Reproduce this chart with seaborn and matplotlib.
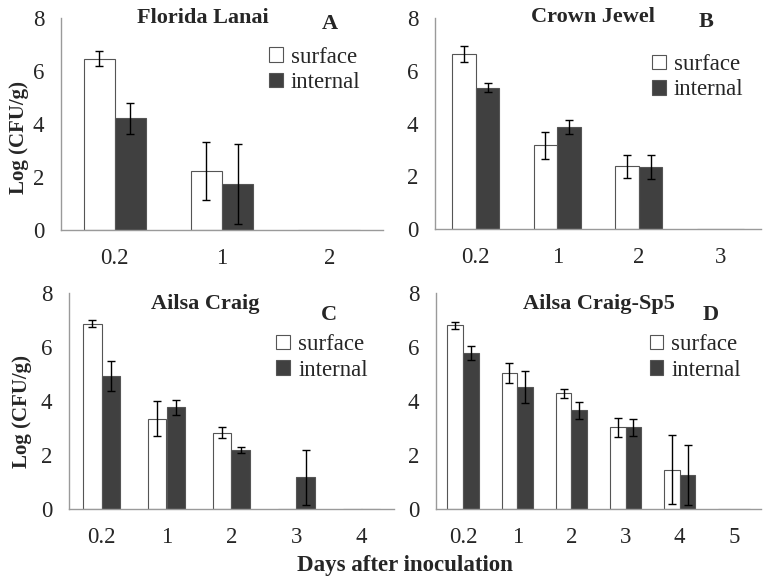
import numpy as np
import pandas as pd
import seaborn as sns
import matplotlib.pyplot as plt

# values (mean log CFU/g and error)
titles = ["Florida Lanai", "Crown Jewel", "Ailsa Craig", "Ailsa Craig-Sp5"]
letters = ["A", "B", "C", "D"]
days = [["0.2", "1", "2"],
        ["0.2", "1", "2", "3"],
        ["0.2", "1", "2", "3", "4"],
        ["0.2", "1", "2", "3", "4", "5"]]
surface = [[6.46, 2.23, 0],
           [6.63, 3.17, 2.37, 0],
           [6.87, 3.35, 2.83, 0, 0],
           [6.80, 5.02, 4.28, 3.02, 1.46, 0]]
surface_err = [[0.28, 1.09, 0],
               [0.29, 0.51, 0.45, 0],
               [0.13, 0.64, 0.21, 0, 0],
               [0.12, 0.37, 0.17, 0.36, 1.28, 0]]
internal = [[4.22, 1.74, 0],
            [5.36, 3.87, 2.36, 0],
            [4.93, 3.76, 2.19, 1.17, 0],
            [5.79, 4.51, 3.65, 3.02, 1.27, 0]]
internal_err = [[0.59, 1.50, 0],
                [0.16, 0.25, 0.46, 0],
                [0.57, 0.29, 0.12, 1.02, 0],
                [0.26, 0.59, 0.31, 0.33, 1.11, 0]]

sns.set_style("white")
plt.rcParams['font.family'] = ['Liberation Serif', 'DejaVu Serif']

fig = plt.figure(figsize=(7.68, 5.88), dpi=100)
W, H = 768, 588
# axes boxes in pixels: left, right, top, bottom
boxes = [(61, 383, 18, 230), (435, 761, 18, 229),
         (69, 394, 293, 509), (436, 761, 293, 509)]
title_pos = [(0.44, 1.0), (0.485, 1.005), (0.42, 0.95), (0.50, 0.95)]
letter_pos = [(0.835, 0.97), (0.83, 0.98), (0.80, 0.90), (0.846, 0.90)]
legend_pos = [(0.646, 0.865), (0.665, 0.83), (0.638, 0.81), (0.657, 0.81)]

grey = "#9a9a9a"
for i in range(4):
    l, r, t, b = boxes[i]
    ax = fig.add_axes([l / W, 1 - b / H, (r - l) / W, (b - t) / H])
    df = pd.DataFrame({
        "day": days[i] * 2,
        "val": surface[i] + internal[i],
        "err": surface_err[i] + internal_err[i],
        "kind": ["surface"] * len(days[i]) + ["internal"] * len(days[i]),
    })
    sns.barplot(data=df, x="day", y="val", hue="kind", order=days[i],
                hue_order=["surface", "internal"],
                palette={"surface": "white", "internal": "#404040"},
                edgecolor="#555555", linewidth=0.8, width=0.58,
                errorbar=None, ax=ax)
    # custom error bars at the bar centres
    for bars, errs, vals in zip(ax.containers, [surface_err[i], internal_err[i]],
                                [surface[i], internal[i]]):
        xs = [p.get_x() + p.get_width() / 2 for p in bars.patches]
        for x, v, e in zip(xs, vals, errs):
            if v > 0:
                ax.errorbar(x, v, yerr=e, color="black", capsize=3,
                            elinewidth=1, capthick=1)
    ax.set_ylim(0, 8)
    ax.set_yticks([0, 2, 4, 6, 8])
    ax.set_xlim(-0.5, len(days[i]) - 0.5)
    ax.set_xticks(np.arange(len(days[i]) + 1) - 0.5, minor=False)
    ax.set_xticklabels([])
    ax.set_xticks(np.arange(len(days[i])), minor=True)
    ax.set_xticklabels(days[i], minor=True, fontsize=16.5)
    ax.tick_params(axis="x", which="major", length=6, color=grey, direction="out")
    ax.tick_params(axis="x", which="minor", length=0, pad=13)
    ax.tick_params(axis="y", length=4, color=grey, direction="out", labelsize=16.5, pad=8)
    ax.set_xlabel("")
    ax.set_ylabel("")
    sns.despine(ax=ax)
    for s in ["left", "bottom"]:
        ax.spines[s].set_color(grey)
        ax.spines[s].set_linewidth(1)
    ax.text(*title_pos[i], titles[i], transform=ax.transAxes, ha="center",
            va="center", fontsize=16, fontweight="bold")
    ax.text(*letter_pos[i], letters[i], transform=ax.transAxes, ha="center",
            va="center", fontsize=16, fontweight="bold")
    sns.move_legend(ax, loc="upper left", bbox_to_anchor=legend_pos[i],
                    frameon=False, title=None,
                    prop={"family": "Liberation Serif", "size": 16.5},
                    handlelength=0.6, handleheight=0.6, handletextpad=0.35,
                    labelspacing=0.2, borderaxespad=0, borderpad=0)

for x, y in [(19, 138), (22, 412)]:
    fig.text(x / W, 1 - y / H, "Log (CFU/g)", rotation=90, ha="center",
             va="center", fontsize=15, fontweight="bold")
fig.text(405 / W, 1 - 566 / H, "Days after inoculation", ha="center", va="center",
         fontsize=16.5, fontweight="bold")
fig.savefig("out.png", dpi=100)
